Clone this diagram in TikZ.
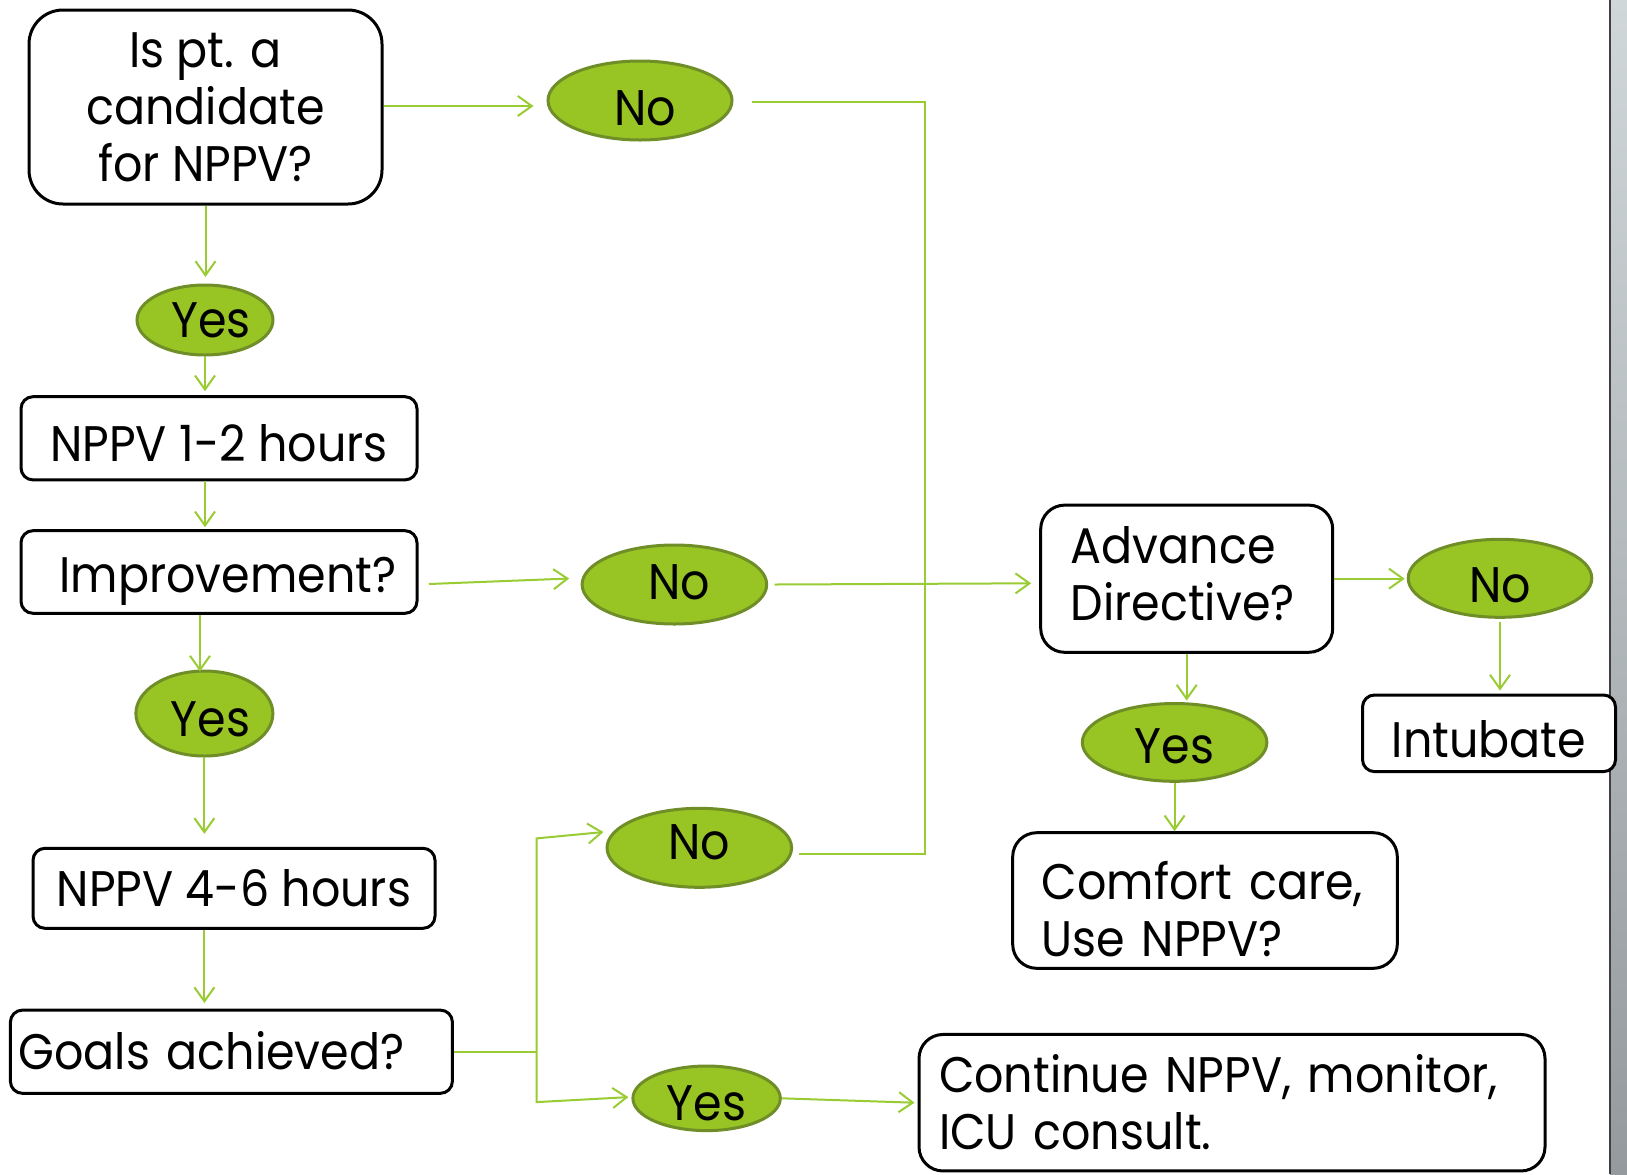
\documentclass[tikz,border=0pt]{standalone}
\usepackage{fontspec}
\setmainfont[FakeStretch=0.92]{Poppins}
\usetikzlibrary{arrows.meta,shapes.geometric,calc}
\definecolor{lnGreen}{RGB}{153,204,51}
\definecolor{ovFill}{RGB}{152,196,36}
\definecolor{ovDraw}{RGB}{112,142,40}
\definecolor{barTop}{RGB}{208,215,217}
\definecolor{barBot}{RGB}{148,154,157}
\begin{document}
\begin{tikzpicture}[x=0.5pt,y=-0.5pt,
  font=\fontsize{25}{28.5}\selectfont,
  box/.style={draw=black, line width=1.5pt, rounded corners=6pt, inner sep=0pt, fill=white},
  oval/.style={ellipse, draw=ovDraw, line width=1.5pt, fill=ovFill, inner sep=0pt, text depth=0pt},
  conn/.style={draw=lnGreen, line width=1pt},
  arr/.style={conn, -{Straight Barb[length=7pt,width=10pt,line width=1pt]}}
]
\fill[white] (0,0) rectangle (1627,1174);
\useasboundingbox (0,0) rectangle (1627,1174);
\shade[top color=barTop, bottom color=barBot] (1610,0) rectangle (1627,1174);
\draw[line width=1pt, black!75] (1610,0) -- (1610,1174);

% boxes
\node[box, rounded corners=17pt, minimum width=176.5pt, minimum height=97pt, align=center] (q1) at (205.5,107) {Is pt. a\\candidate\\for NPPV?};
\node[box, minimum width=198pt, minimum height=41.6pt, text height=23pt, text depth=0pt] (h12) at (219,438.3) {NPPV 1-2 hours};
\node[box, minimum width=198pt, minimum height=41.3pt, text height=20.3pt, text depth=0pt] (imp) at (219,572) {\hspace{9pt}Improvement?};
\node[box, minimum width=201pt, minimum height=40pt, text height=17.9pt, text depth=0pt] (h46) at (234,888.3) {NPPV 4-6 hours};
\node[box, inner xsep=4pt, text width=213pt, align=left, minimum height=41.6pt, text height=17.5pt, text depth=0pt] (goal) at (231.4,1051.7) {Goals achieved?};
\node[box, rounded corners=12pt, inner xsep=15pt, text width=116pt, align=left, minimum height=73.6pt, text height=10pt, text depth=25.4pt] (ad) at (1186.7,578.7) {Advance\\Directive?};
\node[box, minimum width=126.5pt, minimum height=38.3pt, text height=23.9pt, text depth=0pt] (intub) at (1489,733.3) {Intubate};
\node[box, rounded corners=12pt, inner xsep=14.5pt, text width=163.3pt, align=left, minimum height=67.8pt, text height=10pt, text depth=11.5pt] (comf) at (1205,900.5) {Comfort care,\\Use NPPV?};
\node[box, rounded corners=12pt, inner xsep=10pt, text width=293pt, align=left, minimum height=68.25pt, text height=10pt, text depth=20pt] (cont) at (1232,1102.7) {Continue NPPV, monitor,\\ICU consult.};

% ovals
\node[oval, minimum width=92pt, minimum height=39.5pt, text height=24.8pt] (no1) at (640,100.5) {\makebox[0pt]{\kern5pt No}};
\node[oval, minimum width=68pt, minimum height=35pt, text height=17.5pt] (yes1) at (205,320) {\makebox[0pt]{\kern6pt Yes}};
\node[oval, minimum width=92.3pt, minimum height=39.5pt, text height=15.2pt] (no2) at (674.4,584.5) {\makebox[0pt]{\kern5pt No}};
\node[oval, minimum width=68.5pt, minimum height=42.5pt, text height=22.8pt] (yes2) at (204.4,713.5) {\makebox[0pt]{\kern6pt Yes}};
\node[oval, minimum width=92.3pt, minimum height=39.5pt, text height=11.7pt] (no3) at (699.3,847.8) {\makebox[0pt]{No}};
\node[oval, minimum width=73.7pt, minimum height=32.3pt, text height=22.5pt] (yes3) at (706.6,1098.3) {\makebox[0pt]{Yes}};
\node[oval, minimum width=91.8pt, minimum height=39pt, text height=23.7pt] (no4) at (1500,578.3) {\makebox[0pt]{No}};
\node[oval, minimum width=92.3pt, minimum height=38.9pt, text height=20.6pt] (yes4) at (1174.6,742.4) {\makebox[0pt]{Yes}};

\coordinate (bus) at (924.5,500);
\coordinate (split) at (536.5,1051.7);

% connectors
\draw[arr] ([yshift=0.5pt]q1.east) -- ([xshift=-6.5pt,yshift=0.5pt]q1.east -| no1.west);
\draw[arr] (q1.south) -- ([yshift=3.3pt]q1.south |- yes1.north);
\draw[arr] (yes1.south) -- ([yshift=2pt]yes1.south |- h12.north);
\draw[arr] (yes1.south |- h12.south) -- ([yshift=1pt]yes1.south |- imp.north);
\draw[arr] ([xshift=5.25pt,yshift=-6pt]imp.east) -- ([xshift=-5.7pt,yshift=3pt]no2.west);
\draw[arr] ([xshift=3.15pt]no2.east) -- ([xshift=-4pt,yshift=-2.3pt]ad.west);
\draw[arr] ([xshift=-2.2pt]imp.south -| yes2.north) -- ([xshift=-2.2pt,yshift=-1pt]yes2.north);
\draw[arr] (yes2.south) -- ([yshift=6.5pt]yes2.south |- h46.north);
\draw[arr] (yes2.south |- h46.south) -- ([yshift=2.8pt]yes2.south |- goal.north);
\draw[conn] (goal.east) -- (split);
\draw[arr] (split) -- ([yshift=4.7pt]split |- no3.west) -- ([xshift=-1pt,yshift=7.9pt]no3.west);
\draw[arr] (split) -- ([yshift=-1.9pt]split |- yes3.west) -- ([xshift=-1.5pt,yshift=0.6pt]yes3.west);
\draw[arr] (yes3.east) -- ([xshift=-1.5pt]cont.west);
\draw[conn] ([xshift=9pt,yshift=-0.6pt]no1.east) -- ([yshift=-0.6pt]no1.east -| bus) -- ([yshift=-3.1pt]no3.east -| bus) -- ([xshift=2.7pt,yshift=-3.1pt]no3.east);
\draw[arr] (ad.east) -- ([xshift=-1pt]ad.east -| no4.west);
\draw[arr] ([yshift=-1.5pt]no4.south) -- ([yshift=1.5pt]no4.south |- intub.north);
\draw[arr] (ad.south) -- ([yshift=0.75pt]ad.south |- yes4.north);
\draw[arr] (yes4.south) -- (yes4.south |- comf.north);
\end{tikzpicture}
\end{document}
